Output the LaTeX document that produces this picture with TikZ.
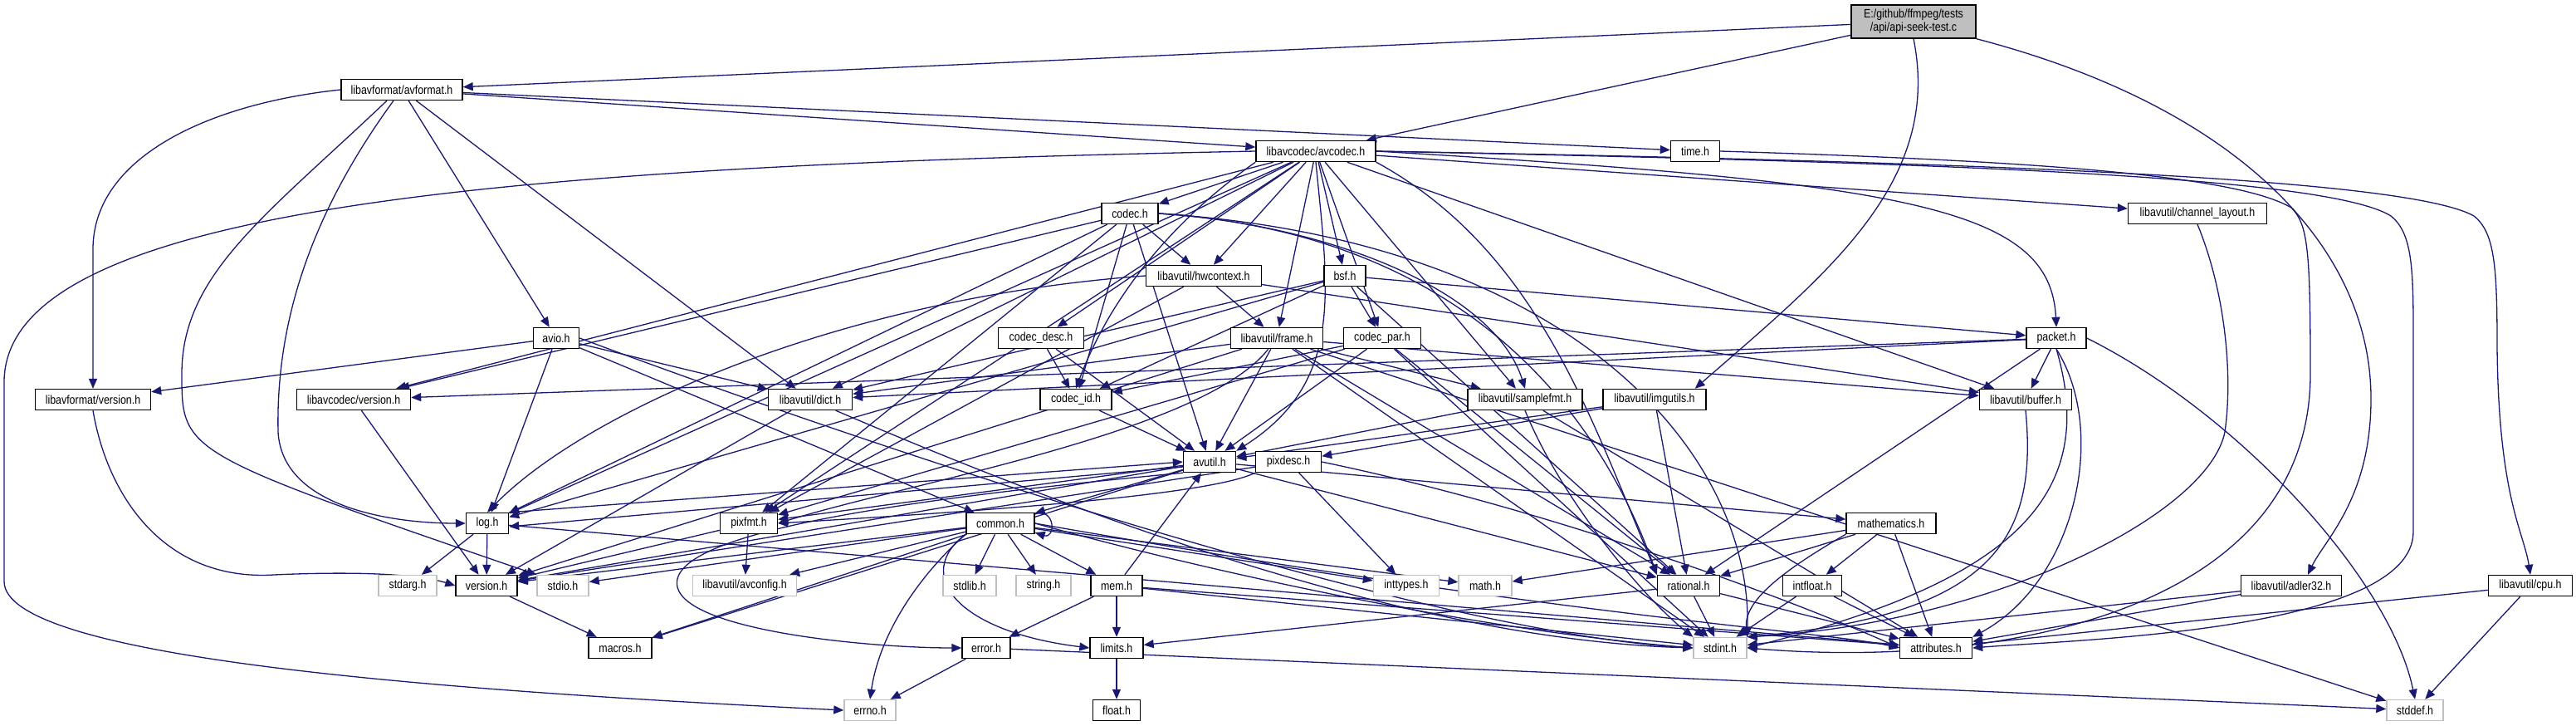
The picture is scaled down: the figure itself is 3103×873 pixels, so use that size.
\documentclass[tikz,border=0pt]{standalone}
\usepackage{fontspec}
\newfontfamily\dotfont[FakeStretch=0.85]{Liberation Sans}
\usetikzlibrary{arrows.meta}
\definecolor{edgeblue}{HTML}{191970}
\definecolor{grey75}{HTML}{BFBFBF}
\pgfdeclarelayer{edges}
\pgfsetlayers{edges,main}

\begin{document}
\begin{tikzpicture}[x=0.5pt, y=-0.5pt, >={Triangle[length=6pt,width=5pt]},
    every node/.style={font=\dotfont\fontsize{7.3pt}{8pt}\selectfont},
    hdr/.style={draw=black, line width=0.7pt, fill=white, inner sep=0pt, minimum height=12.5pt},
    sys/.style={hdr, draw=grey75},
    incl/.style={->, draw=edgeblue, line width=0.65pt}]

  \useasboundingbox (0,0) rectangle (3103,873);

  % rank 0 - 3
  \node[hdr, fill=grey75, minimum width=75pt, minimum height=20pt, align=center] (main) at (2305,26) {E:/github/ffmpeg/tests\\/api/api-seek-test.c};
  \node[hdr, minimum width=73pt] (avformat) at (484,108) {libavformat/avformat.h};
  \node[hdr, minimum width=72pt] (avcodec) at (1585,182) {libavcodec/avcodec.h};
  \node[hdr, minimum width=29.5pt] (timeh) at (2042,182) {time.h};
  \node[hdr, minimum width=34pt] (codec) at (1361,257) {codec.h};
  \node[hdr, minimum width=83.5pt] (chlayout) at (2647,257) {libavutil/channel\_layout.h};

  % rank 4 - 6
  \node[hdr, minimum width=69.5pt] (hwctx) at (1450,332) {libavutil/hwcontext.h};
  \node[hdr, minimum width=25pt] (bsf) at (1620,332) {bsf.h};
  \node[hdr, minimum width=27.5pt] (avio) at (670,407) {avio.h};
  \node[hdr, minimum width=51.5pt] (codecdesc) at (1254,407) {codec\_desc.h};
  \node[hdr, minimum width=55.5pt] (frame) at (1538,407) {libavutil/frame.h};
  \node[hdr, minimum width=46.5pt] (codecpar) at (1665,407) {codec\_par.h};
  \node[hdr, minimum width=36pt] (packet) at (2477,407) {packet.h};
  \node[hdr, minimum width=69.5pt] (lavfver) at (112,481) {libavformat/version.h};
  \node[hdr, minimum width=68.5pt] (lavcver) at (426,481) {libavcodec/version.h};
  \node[hdr, minimum width=50.5pt] (dict) at (976,481) {libavutil/dict.h};
  \node[hdr, minimum width=43pt] (codecid) at (1296,481) {codec\_id.h};
  \node[hdr, minimum width=69pt] (samplefmt) at (1837,481) {libavutil/samplefmt.h};
  \node[hdr, minimum width=62pt] (imgutils) at (1993,481) {libavutil/imgutils.h};
  \node[hdr, minimum width=55.5pt] (buffer) at (2440,481) {libavutil/buffer.h};

  % rank 7 - 8
  \node[hdr, minimum width=31.5pt] (avutil) at (1457,556) {avutil.h};
  \node[hdr, minimum width=39.5pt] (pixdesc) at (1552,556) {pixdesc.h};
  \node[hdr, minimum width=25.5pt] (log) at (587,630) {log.h};
  \node[hdr, minimum width=34.5pt] (pixfmt) at (902,630) {pixfmt.h};
  \node[hdr, minimum width=41pt] (common) at (1205,630) {common.h};
  \node[hdr, minimum width=54pt] (mathem) at (2278,630) {mathematics.h};

  % rank 9
  \node[sys, minimum width=35pt] (stdarg) at (491,705) {stdarg.h};
  \node[hdr, minimum width=37pt] (version) at (586,705) {version.h};
  \node[sys, minimum width=31pt] (stdio) at (678,705) {stdio.h};
  \node[sys, minimum width=62.5pt] (avconfig) at (897,705) {libavutil/avconfig.h};
  \node[sys, minimum width=32pt] (stdlib) at (1168,705) {stdlib.h};
  \node[sys, minimum width=33pt] (stringh) at (1257,705) {string.h};
  \node[hdr, minimum width=31pt] (mem) at (1345,705) {mem.h};
  \node[sys, minimum width=39.5pt] (inttypes) at (1694,705) {inttypes.h};
  \node[sys, minimum width=32pt] (mathh) at (1789,705) {math.h};
  \node[hdr, minimum width=37.5pt] (rational) at (2034,705) {rational.h};
  \node[hdr, minimum width=35.5pt] (intfloat) at (2183,705) {intfloat.h};
  \node[hdr, minimum width=60.5pt] (adler) at (2760,705) {libavutil/adler32.h};
  \node[hdr, minimum width=50.5pt] (cpu) at (3048,705) {libavutil/cpu.h};

  % rank 10 - 11
  \node[hdr, minimum width=38pt] (macros) at (747,780) {macros.h};
  \node[hdr, minimum width=29pt] (error) at (1188,780) {error.h};
  \node[hdr, minimum width=32pt] (limits) at (1345,780) {limits.h};
  \node[sys, minimum width=32pt] (stdint) at (2072,780) {stdint.h};
  \node[hdr, minimum width=43.5pt] (attrib) at (2332,780) {attributes.h};
  \node[sys, minimum width=31pt] (errno) at (1048,855) {errno.h};
  \node[hdr, minimum width=28.5pt] (floath) at (1345,855) {float.h};
  \node[sys, minimum width=34pt] (stddef) at (2909,855) {stddef.h};

  \begin{pgfonlayer}{edges}
    % api-seek-test.c
    \draw[incl] (main) -- (avformat);
    \draw[incl] (main) -- (avcodec);
    \draw[incl] (main.south) .. controls (2340,220) and (2200,330) .. ([xshift=-7pt]imgutils.north east);
    \draw[incl] (main.south east) .. controls (2700,130) and (2856,300) .. (2856,480) .. controls (2856,600) and (2800,650) .. ([xshift=10pt]adler.north);

    % avformat.h
    \draw[incl] (avformat) -- (timeh);
    \draw[incl] (avformat) -- (avcodec);
    \draw[incl] (avformat.west) .. controls (250,125) and (112,190) .. (112,300) -- (lavfver.north);
    \draw[incl] ([xshift=-9pt]avformat.south) .. controls (320,260) and (219,330) .. (219,450) .. controls (219,545) .. (stdio.north west);
    \draw[incl] ([xshift=-5pt]avformat.south) .. controls (380,250) and (332,380) .. (335,520) .. controls (340,610) and (470,630) .. (log.west);
    \draw[incl] (avformat) -- (avio);
    \draw[incl] (avformat) -- (dict);

    % avcodec.h
    \draw[incl] (avcodec.west) .. controls (600,200) and (5,250) .. (5,460) -- (5,700) .. controls (5,790) and (500,830) .. (errno.west);
    \draw[incl] (avcodec) -- (samplefmt);
    \draw[incl] (avcodec.east) .. controls (2300,195) and (2800,210) .. (2880,260) .. controls (2905,280) and (2907,320) .. (2907,400) -- (2907,640) .. controls (2907,760) and (2500,770) .. (attrib.east);
    \draw[incl] (avcodec.south) .. controls (1600,350) and (1620,460) .. (avutil.north east);
    \draw[incl] (avcodec) -- (buffer);
    \draw[incl] (avcodec.east) .. controls (2400,195) and (2900,215) .. (2980,260) .. controls (3005,280) and (3008,320) .. (3008,420) .. controls (3010,600) and (3040,640) .. (cpu.north);
    \draw[incl] (avcodec) -- (chlayout);
    \draw[incl] (avcodec) -- (dict);
    \draw[incl] (avcodec) -- (frame);
    \draw[incl] (avcodec) -- (hwctx);
    \draw[incl] (avcodec) -- (log);
    \draw[incl] (avcodec) -- (pixfmt);
    \draw[incl] (avcodec.south east) .. controls (1850,300) and (1915,500) .. (rational.north west);
    \draw[incl] (avcodec) -- (bsf);
    \draw[incl] (avcodec) -- (codec);
    \draw[incl] (avcodec) -- (codecdesc);
    \draw[incl] (avcodec) -- (codecpar);
    \draw[incl] (avcodec.south west) .. controls (1420,260) and (1340,350) .. (codecid.north);
    \draw[incl] (avcodec.east) .. controls (2300,220) and (2470,250) .. (packet.north);
    \draw[incl] (avcodec) -- (lavcver);

    % codec.h
    \draw[incl] (codec.east) .. controls (1900,290) and (2110,550) .. (stdint.north east);
    \draw[incl] (codec) -- (avutil);
    \draw[incl] (codec) -- (hwctx);
    \draw[incl] (codec) -- (log);
    \draw[incl] (codec) -- (pixfmt);
    \draw[incl] (codec.east) .. controls (1750,280) and (1920,480) .. (rational.north west);
    \draw[incl] (codec.east) .. controls (1600,270) and (1800,350) .. (samplefmt.north);
    \draw[incl] (codec) -- (codecid);
    \draw[incl] (codec) -- (lavcver);

    % time.h, channel_layout.h, cpu.h, adler32.h
    \draw[incl] (timeh.east) .. controls (2500,195) and (2700,215) .. (2760,250) .. controls (2780,270) and (2783,300) .. (2783,450) .. controls (2783,740) and (2400,805) .. (stdint.east);
    \draw[incl] (chlayout.south) .. controls (2680,350) and (2690,450) .. (2680,520) .. controls (2660,620) and (2400,750) .. (stdint.north east);
    \draw[incl] (cpu) -- (stddef);
    \draw[incl] (cpu) -- (attrib);
    \draw[incl] (adler) -- (stdint);
    \draw[incl] (adler) -- (attrib);

    % hwcontext.h, bsf.h
    \draw[incl] (hwctx) -- (buffer);
    \draw[incl] (hwctx) -- (frame);
    \draw[incl] (hwctx.west) .. controls (1000,360) and (700,500) .. (log.north);
    \draw[incl] (hwctx) -- (pixfmt);
    \draw[incl] (bsf) -- (dict);
    \draw[incl] (bsf) -- (log);
    \draw[incl] (bsf) -- (rational);
    \draw[incl] (bsf) -- (codecid);
    \draw[incl] (bsf) -- (codecpar);
    \draw[incl] (bsf) -- (packet);

    % avio.h
    \draw[incl] (avio.east) .. controls (1000,520) and (1700,760) .. (stdint.west);
    \draw[incl] (avio) -- (common);
    \draw[incl] (avio) -- (dict);
    \draw[incl] (avio) -- (log);
    \draw[incl] (avio) -- (lavfver);

    % codec_desc.h, codec_id.h, codec_par.h
    \draw[incl] (codecdesc) -- (avutil);
    \draw[incl] (codecdesc) -- (codecid);
    \draw[incl] (codecid) -- (avutil);
    \draw[incl] (codecpar) -- (stdint);
    \draw[incl] (codecpar) -- (avutil);
    \draw[incl] (codecpar) -- (rational);
    \draw[incl] (codecpar) -- (pixfmt);
    \draw[incl] (codecpar) -- (codecid);

    % frame.h
    \draw[incl] (frame) -- (stddef);
    \draw[incl] (frame) -- (stdint);
    \draw[incl] (frame) -- (avutil);
    \draw[incl] (frame) -- (buffer);
    \draw[incl] (frame) -- (dict);
    \draw[incl] (frame) -- (rational);
    \draw[incl] (frame) -- (samplefmt);
    \draw[incl] (frame) .. controls (1450,520) and (1100,580) .. (pixfmt.east);
    \draw[incl] (frame) -- (version);

    % packet.h
    \draw[incl] (packet.east) .. controls (2700,500) and (2880,700) .. (stddef.north);
    \draw[incl] (packet.south) .. controls (2530,600) and (2420,700) .. (stdint.east);
    \draw[incl] (packet.south) .. controls (2540,520) and (2500,700) .. (attrib.north east);
    \draw[incl] (packet) -- (buffer);
    \draw[incl] (packet) -- (dict);
    \draw[incl] (packet) -- (rational);
    \draw[incl] (packet) -- (lavcver);

    % version headers, dict.h, samplefmt.h, imgutils.h, buffer.h
    \draw[incl] (lavfver.south) .. controls (130,600) and (200,700) .. (330,692) .. controls (420,688) and (500,690) .. (version.west);
    \draw[incl] (lavcver) -- (version);
    \draw[incl] (dict) .. controls (1300,620) and (1700,770) .. (stdint.west);
    \draw[incl] (dict) -- (version);
    \draw[incl] (samplefmt.south) .. controls (1880,600) and (1980,720) .. (stdint.north west);
    \draw[incl] (samplefmt) -- (avutil);
    \draw[incl] (samplefmt) -- (attrib);
    \draw[incl] (imgutils) -- (avutil);
    \draw[incl] (imgutils) -- (pixdesc);
    \draw[incl] (imgutils) -- (rational);
    \draw[incl] (buffer.south) .. controls (2455,650) and (2400,740) .. (stdint.north east);

    % avutil.h
    \draw[incl] (avutil) -- (common);
    \draw[incl] (avutil.south west) .. controls (1100,600) and (800,640) .. (816,707) .. controls (830,760) and (1050,780) .. (error.west);
    \draw[incl] (avutil) -- (rational);
    \draw[incl] (avutil) -- (version);
    \draw[incl] (avutil) -- (macros);
    \draw[incl] (avutil) -- (mathem);
    \draw[incl] ([yshift=-3pt]avutil.west) -- ([yshift=-2pt]log.east);
    \draw[incl] (avutil) -- (pixfmt);

    % pixdesc.h, log.h, pixfmt.h
    \draw[incl] (pixdesc) -- (inttypes);
    \draw[incl] (pixdesc.east) .. controls (1900,620) and (2200,740) .. (attrib.west);
    \draw[incl] (pixdesc.south west) .. controls (1450,600) and (1100,620) .. (pixfmt.east);
    \draw[incl] (pixdesc) -- (version);
    \draw[incl] (log) -- (stdarg);
    \draw[incl] (log.north east) -- (avutil.west);
    \draw[incl] (log) -- (attrib);
    \draw[incl] (log) -- (version);
    \draw[incl] (pixfmt) -- (avconfig);
    \draw[incl] (pixfmt) -- (version);

    % common.h
    \draw[incl] (common.south west) .. controls (1110,690) and (1060,760) .. (errno.north);
    \draw[incl] (common) -- (inttypes);
    \draw[incl] (common.south west) .. controls (1100,690) and (1150,760) .. (limits.west);
    \draw[incl] (common) -- (mathh);
    \draw[incl] (common.east) .. controls (1500,700) and (1800,760) .. (stdint.west);
    \draw[incl] (common) -- (stdio);
    \draw[incl] (common) -- (stdlib);
    \draw[incl] (common) -- (stringh);
    \draw[incl] (common.east) .. controls (1900,745) and (2200,760) .. (attrib.west);
    \draw[incl] (common) -- (macros);
    \draw[incl] (common) -- (version);
    \draw[incl] (common) -- (avconfig);
    \draw[incl] (common) -- (mem);
    \draw[incl] (common.15) .. controls +(25,-8) and +(25,8) .. (common.-15);

    % mathematics.h, rational.h, intfloat.h
    \draw[incl] (mathem.south west) .. controls (2160,680) and (2100,720) .. (stdint.north east);
    \draw[incl] (mathem) -- (mathh);
    \draw[incl] (mathem) -- (attrib);
    \draw[incl] (mathem) -- (rational);
    \draw[incl] (mathem) -- (intfloat);
    \draw[incl] (rational) -- (stdint);
    \draw[incl] (rational) -- (limits);
    \draw[incl] (rational) -- (attrib);
    \draw[incl] (intfloat) -- (stdint);
    \draw[incl] (intfloat) -- (attrib);

    % version.h, mem.h, error.h, limits.h
    \draw[incl] (version) -- (macros);
    \draw[incl] (mem) -- (limits);
    \draw[incl] (mem) -- (stdint);
    \draw[incl] (mem) -- (attrib);
    \draw[incl] (mem) -- (error);
    \draw[incl] (mem) -- (avutil);
    \draw[incl] (error) -- (errno);
    \draw[incl] (error) -- (stddef);
    \draw[incl] (limits) -- (floath);
  \end{pgfonlayer}
\end{tikzpicture}
\end{document}
